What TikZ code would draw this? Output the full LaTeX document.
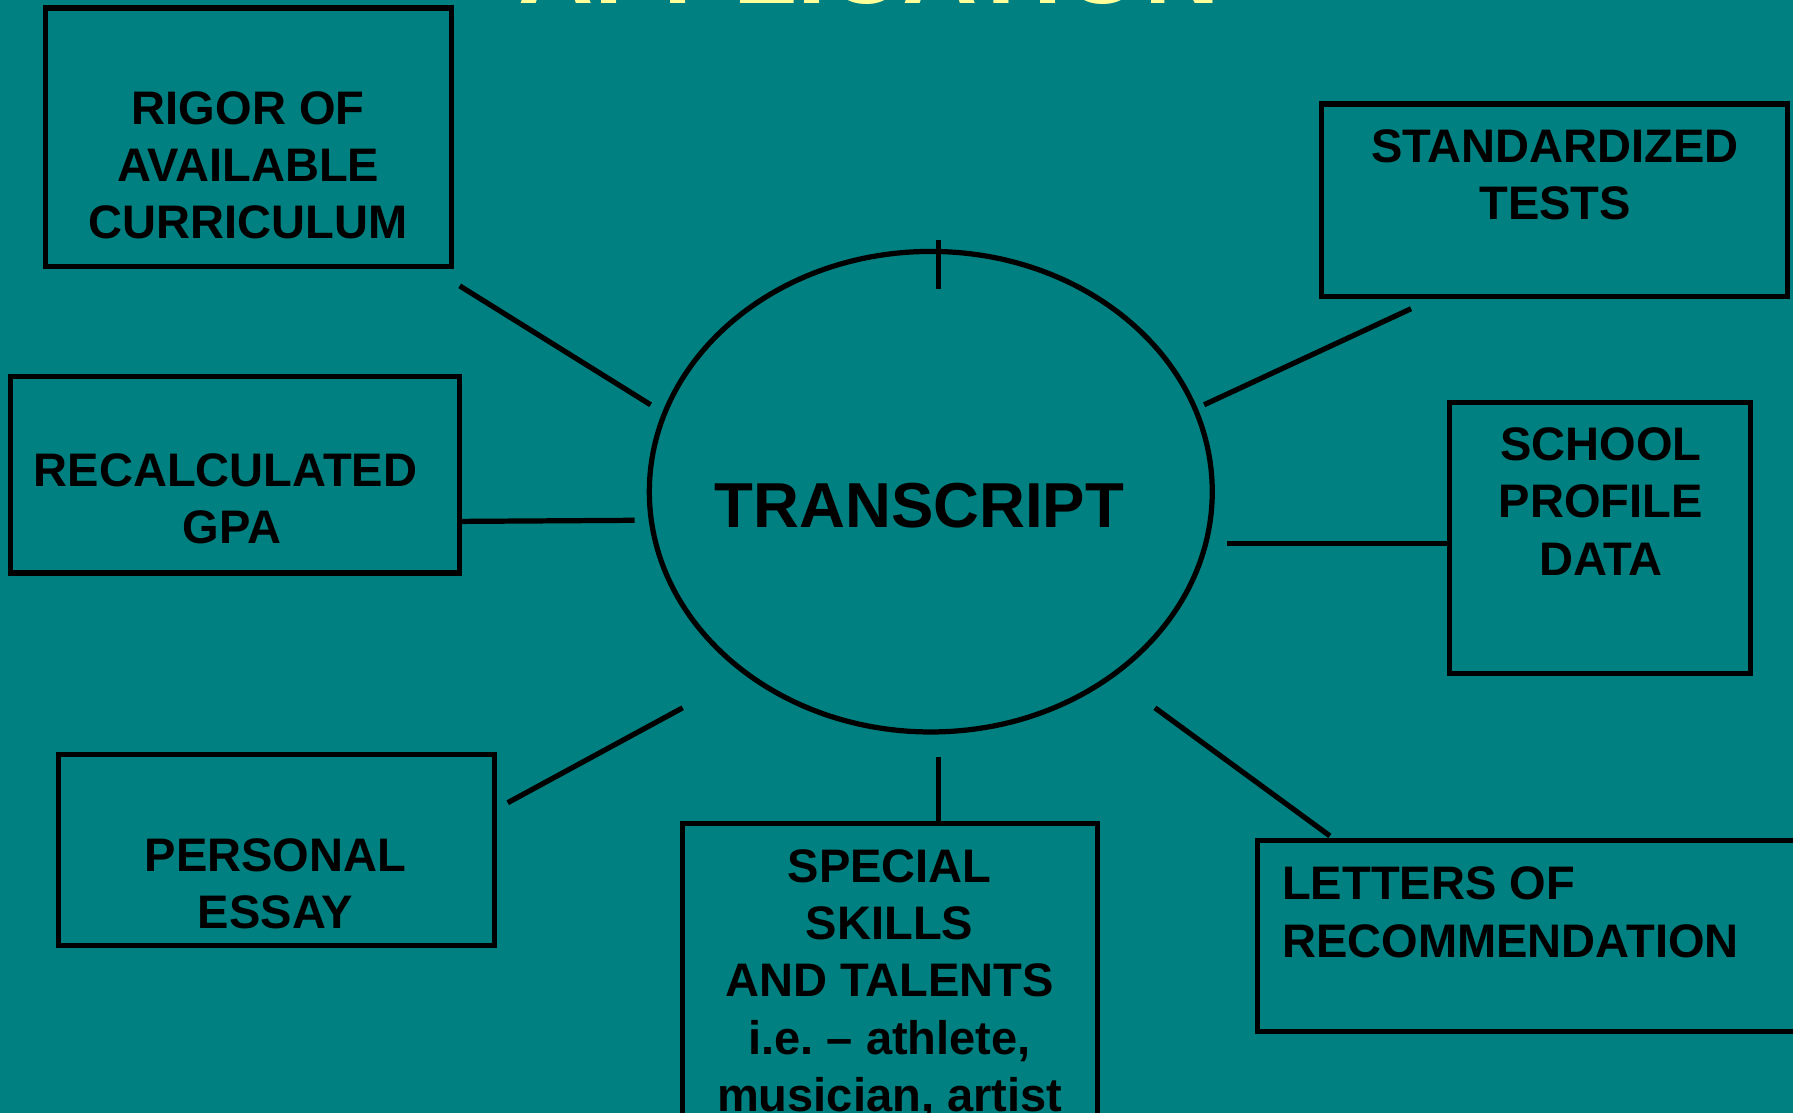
\documentclass[tikz,border=0pt]{standalone}
\usepackage{fontspec}
\setmainfont{Liberation Sans}
\usepackage{xcolor}
\usetikzlibrary{shapes.geometric}
\definecolor{slideteal}{RGB}{0,128,128}
\definecolor{titleyellow}{RGB}{255,255,153}
\begin{document}
\begin{tikzpicture}[x=0.01cm, y=-0.01cm, line width=1.3pt,
	box/.style={draw, inner sep=0pt},
	boxtext/.style={inner sep=0pt, align=center, font=\bfseries\fontsize{11.7}{14.2}\selectfont}]
			\useasboundingbox (0,0) rectangle (1568,973);
			\clip (0,0) rectangle (1568,973);
			\fill[slideteal] (0,0) rectangle (1568,973);
			\node[anchor=base, inner sep=0pt, text=titleyellow, font=\bfseries\fontsize{26}{30}\selectfont] (title) at (760,3) {APPLICATION};
			\node[draw, ellipse, inner sep=0pt, minimum width=4.92cm, minimum height=4.2cm] (hub) at (814,430) {};
			\node[inner sep=0pt, font=\bfseries\fontsize{15.8}{19}\selectfont] (hubtxt) at (804,442) {TRANSCRIPT};
			\node[box, minimum width=3.55cm, minimum height=2.26cm] (rigor) at (217.5,120) {};
			\node[boxtext, anchor=north] (rigortxt) at (217,78) {RIGOR OF\\AVAILABLE\\CURRICULUM};
			\node[box, minimum width=3.93cm, minimum height=1.72cm] (gpa) at (205.5,415) {};
			\node[boxtext, anchor=north] (gpatxt) at (203,394) {RECALCULATED\hspace*{0.278em}\\GPA};
			\node[box, minimum width=4.07cm, minimum height=1.68cm] (tests) at (1359.5,175) {};
			\node[boxtext, anchor=north] (teststxt) at (1360,111) {STANDARDIZED\\TESTS};
			\node[box, minimum width=2.63cm, minimum height=2.37cm] (school) at (1399.5,470.5) {};
			\node[boxtext, anchor=north] (schooltxt) at (1400,372) {SCHOOL\\PROFILE\\DATA};
			\node[box, minimum width=3.81cm, minimum height=1.67cm] (essay) at (241.5,743.5) {};
			\node[boxtext, anchor=north] (essaytxt) at (241,731) {PERSONAL\\ESSAY};
			\node[box, minimum width=3.63cm, minimum height=2.9cm] (skills) at (778.5,865) {};
			\node[boxtext, anchor=north] (skillstxt) at (778,741) {SPECIAL\\SKILLS\\AND TALENTS\\i.e.\ -- athlete,\\musician, artist};
			\node[box, minimum width=5.2cm, minimum height=1.67cm] (letters) at (1360,818.5) {};
			\node[boxtext, align=left, anchor=north west] (letterstxt) at (1119,756) {LETTERS OF\\RECOMMENDATION};
			\coordinate (rigor-a) at (402,250);
			\coordinate (rigor-b) at (569,354);
			\coordinate (gpa-a) at (402,456);
			\coordinate (gpa-b) at (555,455);
			\coordinate (tests-a) at (1234,270);
			\coordinate (tests-b) at (1053,354);
			\coordinate (school-a) at (1268,475);
			\coordinate (school-b) at (1073,475);
			\coordinate (essay-a) at (444,702);
			\coordinate (essay-b) at (597,619);
			\coordinate (skills-a) at (821,720);
			\coordinate (skills-b) at (821,662);
			\coordinate (letters-a) at (1163,731);
			\coordinate (letters-b) at (1010,619);
			\coordinate (tick-a) at (821,210);
			\coordinate (tick-b) at (821,253);
			\draw (rigor-a) -- (rigor-b);
			\draw (gpa-a) -- (gpa-b);
			\draw (tests-a) -- (tests-b);
			\draw (school-a) -- (school-b);
			\draw (essay-a) -- (essay-b);
			\draw (skills-a) -- (skills-b);
			\draw (letters-a) -- (letters-b);
			\draw (tick-a) -- (tick-b);
			\end{tikzpicture}
\end{document}
